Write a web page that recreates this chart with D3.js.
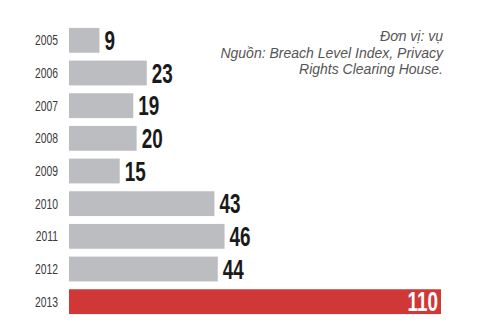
<!DOCTYPE html>
<html><head><meta charset="utf-8">
<script src="https://cdn.jsdelivr.net/npm/d3@7"></script>
<style>
html,body{margin:0;padding:0;background:#fff;}
svg{display:block;}
.yr{font-family:"Liberation Sans",sans-serif;font-size:14px;fill:#3a3a3a;}
.val{font-family:"Liberation Sans",sans-serif;font-weight:bold;font-size:27px;}
.note{font-family:"Liberation Sans",sans-serif;font-style:italic;font-size:14px;fill:#555;}
</style></head>
<body>
<div id="chart"></div>
<script>
const years = ["2005","2006","2007","2008","2009","2010","2011","2012","2013"];
const values = [9,23,19,20,15,43,46,44,110];
const noteLines = ["Đơn vị: vụ","Nguồn: Breach Level Index, Privacy","Rights Clearing House."];

const W=500,H=330;
const svg=d3.select("#chart").append("svg").attr("width",W).attr("height",H);
const x=d3.scaleLinear().domain([0,110]).range([69,441]);
const y=d3.scaleBand().domain(years).range([24,318]).paddingInner(0.24).paddingOuter(0.12);

svg.selectAll("rect.bar").data(years).join("rect")
  .attr("x",x(0)).attr("y",d=>y(d))
  .attr("width",(d,i)=>x(values[i])-x(0)).attr("height",y.bandwidth())
  .attr("fill",(d,i)=>i===years.length-1?"#d03737":"#bcbdc0");

svg.selectAll("text.yr").data(years).join("text").attr("class","yr")
  .attr("x",58).attr("y",d=>y(d)+y.bandwidth()/2).attr("dy","0.36em")
  .attr("text-anchor","end").attr("transform",`translate(58,0) scale(0.74,1) translate(-58,0)`)
  .text(d=>d);

svg.selectAll("text.val").data(years).join("text").attr("class","val")
  .each(function(d,i){
    const last=i===years.length-1;
    const xx=last? x(values[i])-3 : x(values[i])+5;
    d3.select(this).attr("x",xx).attr("y",y(d)+y.bandwidth()/2).attr("dy","0.36em")
      .attr("text-anchor",last?"end":"start")
      .style("fill",last?"#ffffff":"#1a1a1a")
      .attr("transform",`translate(${xx},0) scale(0.7,1) translate(${-xx},0)`)
      .text(values[i]);
  });

svg.selectAll("text.note").data(noteLines).join("text").attr("class","note")
  .attr("x",443).attr("y",(d,i)=>41+i*16.5).attr("text-anchor","end").text(d=>d);
</script>
</body></html>
